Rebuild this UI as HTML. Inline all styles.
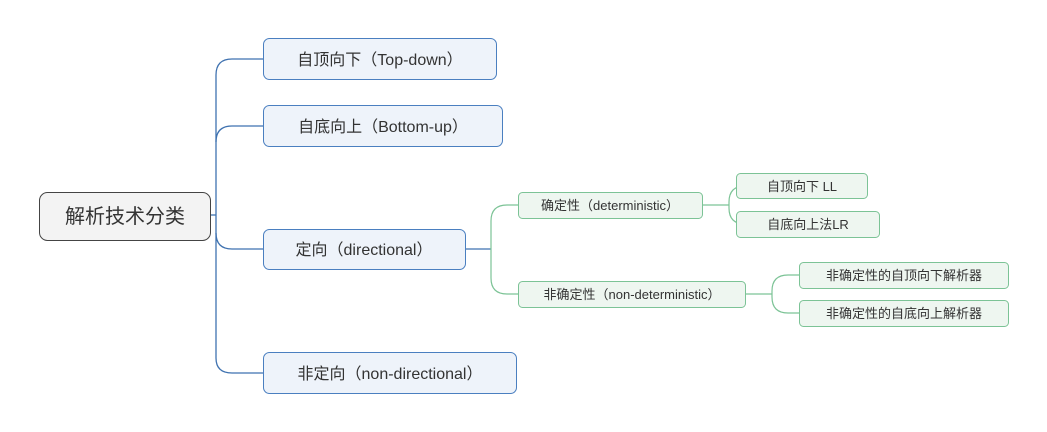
<!DOCTYPE html>
<html><head><meta charset="utf-8"><style>
html,body{margin:0;padding:0;background:#fff;}
svg{display:block;font-family:"Liberation Sans","Noto Sans CJK SC",sans-serif;}
</style></head><body>
<svg width="1047" height="432" viewBox="0 0 1047 432">
<g fill="none" stroke="#3f72b0" stroke-width="1.3">
<path d="M210 215 H216"/>
<path d="M263 59 H232 Q216 59 216 75 V358 Q216 373 232 373 H263"/>
<path d="M216 142 Q216 126 232 126 H263"/>
<path d="M216 233 Q216 249 232 249 H263"/>
<path d="M465 249 H491"/>
</g>
<g fill="none" stroke="#7cc396" stroke-width="1.2">
<path d="M518 205 H507 Q491 205 491 221 V278 Q491 294 507 294 H518"/>
<path d="M702 205 H729"/>
<path d="M736 186 H745 Q729 186 729 202 V208 Q729 224 745 224 H736"/>
<path d="M745 294 H772"/>
<path d="M799 275 H788 Q772 275 772 291 V297 Q772 313 788 313 H799"/>
</g>
<rect x="39.5" y="192.5" width="171" height="48" rx="8" fill="#f3f3f3" stroke="#444" stroke-width="1"/>
<text x="125" y="223" font-size="20" text-anchor="middle" fill="#333">解析技术分类</text>
<g fill="#eef3fa" stroke="#4a7fc0" stroke-width="1">
<rect x="263.5" y="38.5" width="233" height="41" rx="6"/>
<rect x="263.5" y="105.5" width="239" height="41" rx="6"/>
<rect x="263.5" y="229.5" width="202" height="40" rx="6"/>
<rect x="263.5" y="352.5" width="253" height="41" rx="6"/>
</g>
<g font-size="16" fill="#333" text-anchor="middle">
<text x="380" y="65">自顶向下（Top-down）</text>
<text x="383" y="132">自底向上（Bottom-up）</text>
<text x="364" y="255">定向（directional）</text>
<text x="390" y="379">非定向（non-directional）</text>
</g>
<g fill="#eef6f0" stroke="#7cc396" stroke-width="1">
<rect x="518.5" y="192.5" width="184" height="26" rx="4"/>
<rect x="518.5" y="281.5" width="227" height="26" rx="4"/>
<rect x="736.5" y="173.5" width="131" height="25" rx="4"/>
<rect x="736.5" y="211.5" width="143" height="26" rx="4"/>
<rect x="799.5" y="262.5" width="209" height="26" rx="4"/>
<rect x="799.5" y="300.5" width="209" height="26" rx="4"/>
</g>
<g font-size="13" fill="#333" text-anchor="middle">
<text x="610" y="210">确定性（deterministic）</text>
<text x="632" y="299">非确定性（non-deterministic）</text>
<text x="802" y="191">自顶向下 LL</text>
<text x="808" y="229">自底向上法LR</text>
<text x="904" y="280">非确定性的自顶向下解析器</text>
<text x="904" y="318">非确定性的自底向上解析器</text>
</g>
</svg>
</body></html>
